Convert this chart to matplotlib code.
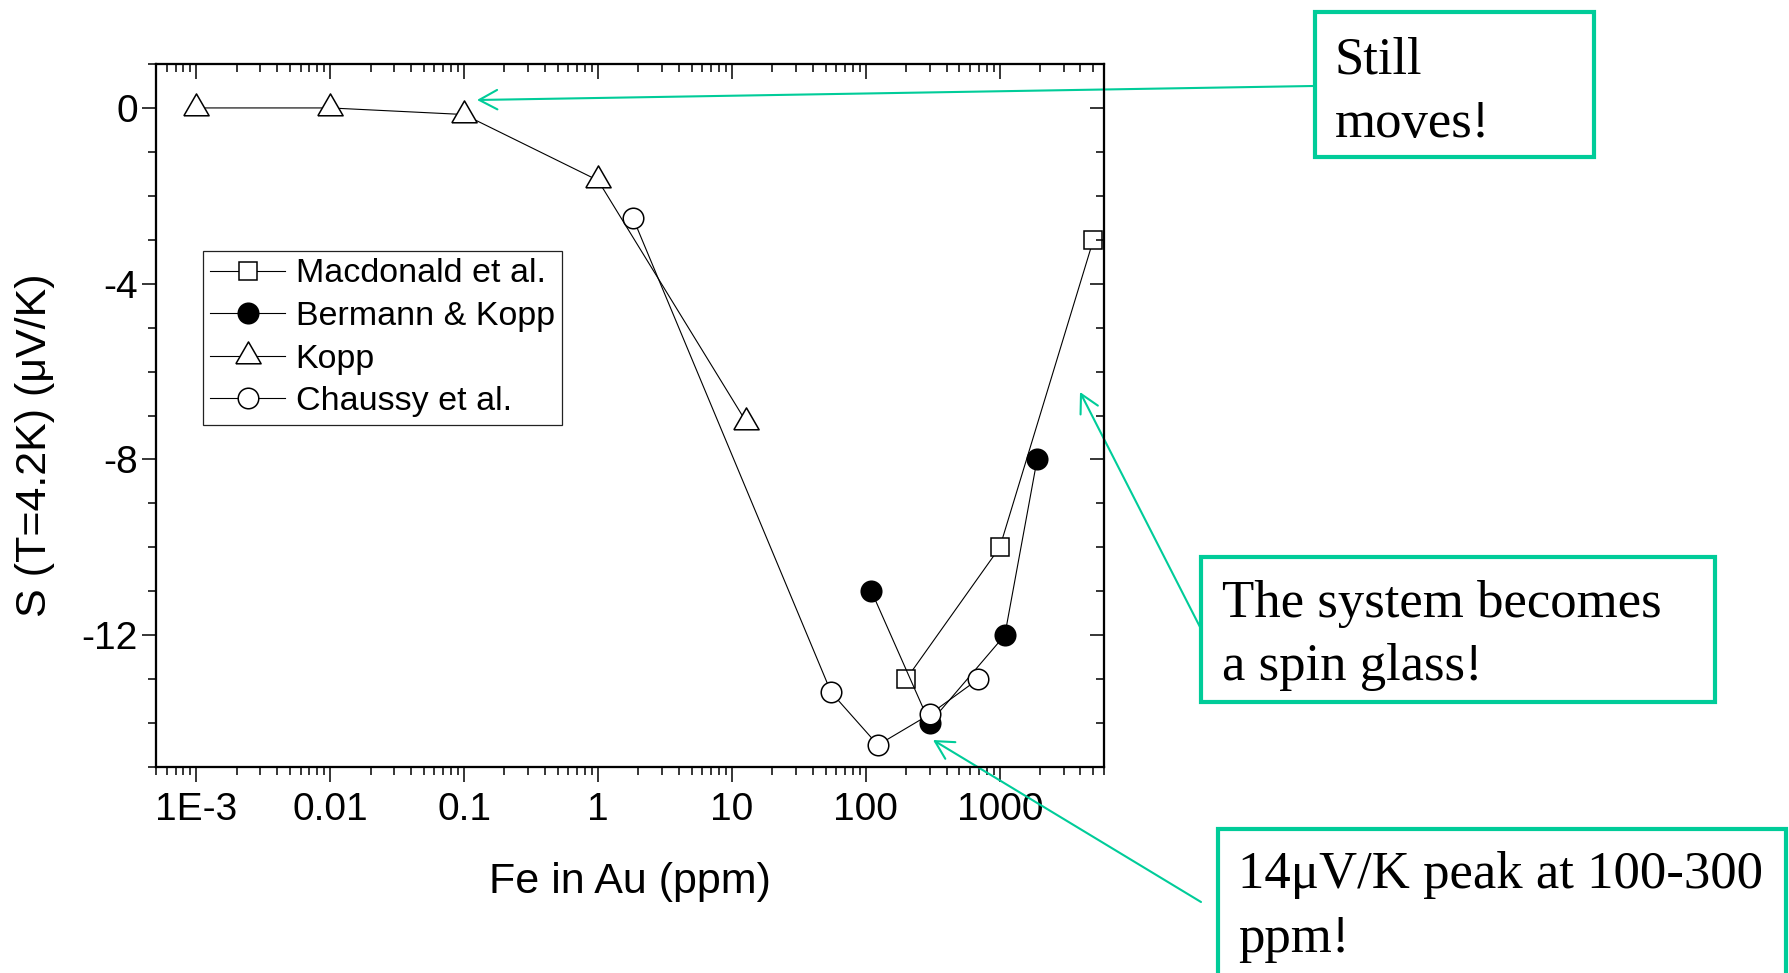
import matplotlib
matplotlib.use("Agg")
import matplotlib.pyplot as plt
from matplotlib.ticker import FixedLocator, FixedFormatter, LogLocator, NullFormatter, MultipleLocator
from matplotlib.patches import Rectangle

plt.rcParams['font.family'] = ['Liberation Sans', 'DejaVu Sans']
plt.rcParams['axes.unicode_minus'] = False

# values (Fe in Au, ppm  ->  S at 4.2 K, uV/K)
mac_x = [200, 1000, 5000]
mac_y = [-13.0, -10.0, -3.0]
berm_x = [110, 300, 1090, 1900]
berm_y = [-11.0, -14.0, -12.0, -8.0]
kopp_x = [0.001, 0.01, 0.1, 1, 12.8]
kopp_y = [0.0, 0.0, -0.15, -1.65, -7.15]
chau_x = [1.82, 55, 123, 300, 690]
chau_y = [-2.5, -13.3, -14.5, -13.8, -13.0]

series_names = ['Macdonald et al.', 'Bermann & Kopp', 'Kopp', 'Chaussy et al.']
xticks = [1e-3, 0.01, 0.1, 1, 10, 100, 1000]
xticklabels = ['1E-3', '0.01', '0.1', '1', '10', '100', '1000']

W, H = 1789, 973
green = '#00CC99'
serif = ['Liberation Serif', 'DejaVu Serif']

fig = plt.figure(figsize=(W / 100, H / 100), dpi=100)
ax = fig.add_axes([156 / W, 1 - 767 / H, (1104 - 156) / W, (767 - 64) / H])

# equilateral triangle centred on its centroid, like Origin draws it
tri = [(-1, -0.577), (1, -0.577), (0, 1.155), (-1, -0.577)]

common = dict(color='k', lw=0.8, mec='k', mew=1.1)
ax.plot(mac_x, mac_y, marker='s', ms=13.3, mfc='white', label=series_names[0], **common)
ax.plot(berm_x, berm_y, marker='o', ms=14.8, mfc='k', label=series_names[1], **common)
ax.plot(kopp_x, kopp_y, marker=tri, ms=21, mfc='white', label=series_names[2], **common)
ax.plot(chau_x, chau_y, marker='o', ms=14.8, mfc='white', label=series_names[3], **common)

ax.set_xscale('log')
ax.set_xlim(5e-4, 6000)
ax.set_ylim(-15, 1)

ax.xaxis.set_major_locator(FixedLocator(xticks))
ax.xaxis.set_major_formatter(FixedFormatter(xticklabels))
ax.xaxis.set_minor_locator(LogLocator(base=10, subs=range(2, 10), numticks=20))
ax.xaxis.set_minor_formatter(NullFormatter())
ax.yaxis.set_major_locator(MultipleLocator(4))
ax.yaxis.set_minor_locator(MultipleLocator(1))

for s in ax.spines.values():
    s.set_linewidth(1.5)

ax.tick_params(axis='x', which='both', direction='out', top=False, labelsize=28, pad=7, width=1.1)
ax.tick_params(axis='x', which='major', length=10.8)
ax.tick_params(axis='x', which='minor', length=5.8)
ax.tick_params(axis='y', which='both', direction='out', right=False, labelsize=28, pad=3, width=1.1)
ax.tick_params(axis='y', which='major', length=10)
ax.tick_params(axis='y', which='minor', length=5.8)

# top and right ticks point inward
axt = ax.twiny()
axt.set_xscale('log')
axt.set_xlim(ax.get_xlim())
axt.xaxis.set_major_locator(FixedLocator(xticks))
axt.xaxis.set_minor_locator(LogLocator(base=10, subs=range(2, 10), numticks=20))
axt.tick_params(axis='x', which='both', direction='in', labeltop=False, width=1.1)
axt.tick_params(axis='x', which='major', length=10.8)
axt.tick_params(axis='x', which='minor', length=5.8)

axr = ax.twinx()
axr.set_ylim(ax.get_ylim())
axr.yaxis.set_major_locator(MultipleLocator(4))
axr.yaxis.set_minor_locator(MultipleLocator(1))
axr.tick_params(axis='y', which='both', direction='in', labelright=False, width=1.1)
axr.tick_params(axis='y', which='major', length=10)
axr.tick_params(axis='y', which='minor', length=5.8)
for a in (axt, axr):
    for s in a.spines.values():
        s.set_linewidth(1.5)

ax.set_xlabel('Fe in Au (ppm)', fontsize=31, labelpad=25)
ax.set_ylabel('S (T=4.2K) (\u03bcV/K)', fontsize=31)
ax.yaxis.set_label_coords(-0.107, 0.457)

leg = ax.legend(loc='upper left', bbox_to_anchor=(203 / W, 1 - 251 / H), bbox_transform=fig.transFigure,
                borderaxespad=0, fontsize=24.5, handlelength=2.2, handletextpad=0.3,
                labelspacing=0.34, borderpad=0.22, fancybox=False, framealpha=1)
leg.get_frame().set_edgecolor('#222222')
leg.get_frame().set_linewidth(0.9)


def box(x0, y0, x1, y1):
    fig.add_artist(Rectangle((x0 / W, 1 - y1 / H), (x1 - x0) / W, (y1 - y0) / H,
                             transform=fig.transFigure, facecolor='white',
                             edgecolor=green, lw=3, zorder=5))


def line_text(x, y, s):
    fig.text(x / W, 1 - y / H, s, fontsize=38, family=serif, ha='left', va='baseline', zorder=6)


def arrow(tail, head):
    ax.annotate('', xy=(head[0], H - head[1]), xycoords='figure pixels',
                xytext=(tail[0], H - tail[1]), textcoords='figure pixels',
                annotation_clip=False,
                arrowprops=dict(arrowstyle='->,head_length=1.3,head_width=0.7', mutation_scale=10,
                                color=green, lw=1.5, shrinkA=0, shrinkB=0))


box(1315, 12, 1594, 157)
line_text(1335, 73, 'Still')
line_text(1335, 137, 'moves!')

box(1201, 557, 1715, 702)
line_text(1222, 617, 'The system becomes')
line_text(1222, 680, 'a spin glass!')

box(1218, 829, 1786, 1010)
line_text(1238, 888, '14\u03bcV/K peak at 100-300')
line_text(1238, 952, 'ppm!')

arrow((1313, 86), (477, 100))
arrow((1200, 627), (1080, 392))
arrow((1201, 902), (933, 740))

fig.savefig('out.png', dpi=100, facecolor='white')
